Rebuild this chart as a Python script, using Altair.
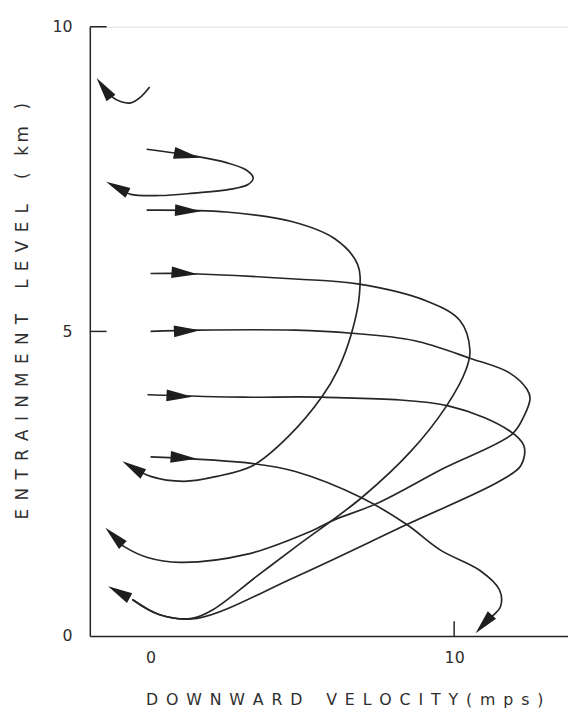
import math
import altair as alt
import pandas as pd

# ---- trajectories: downward velocity (mps) vs entrainment level (km) ----
c9_x = [-0.03, -0.32, -0.65, -0.97, -1.30, -1.50]
c9_y = [9.01, 8.85, 8.75, 8.77, 8.86, 9.00]

c8_x = [-0.13, 1.43, 2.50, 3.15, 3.38, 3.21, 2.60, 1.43, 0.32, -0.65, -1.10]
c8_y = [7.99, 7.88, 7.77, 7.65, 7.52, 7.41, 7.33, 7.27, 7.23, 7.25, 7.36]

c7_x = [-0.13, 2.50, 4.68, 6.07, 6.82, 6.88, 6.62, 6.17, 5.65, 4.55, 3.38, 2.18, 1.10, 0.00, -0.55]
c7_y = [6.99, 6.96, 6.80, 6.52, 6.10, 5.61, 4.97, 4.37, 3.93, 3.28, 2.80, 2.62, 2.54, 2.62, 2.76]

c6_x = [0.00, 1.10, 4.77, 6.82, 9.09, 10.19, 10.52, 10.39, 9.74, 8.57, 6.95, 4.77, 3.47, 2.08, 1.36, 0.30, -0.60]
c6_y = [5.95, 5.95, 5.86, 5.78, 5.50, 5.18, 4.69, 4.37, 3.77, 3.03, 2.27, 1.46, 0.97, 0.44, 0.29, 0.35, 0.60]

c5_x = [0.00, 1.53, 4.77, 6.62, 8.67, 10.52, 11.82, 12.40, 12.50, 12.30, 11.92, 9.64, 7.47, 5.97, 5.32, 3.15, 0.97, -0.10, -0.84, -1.15]
c5_y = [5.00, 5.02, 5.02, 4.97, 4.85, 4.56, 4.32, 4.05, 3.90, 3.61, 3.32, 2.75, 2.18, 1.89, 1.73, 1.34, 1.21, 1.29, 1.46, 1.58]

c4_x = [-0.10, 3.05, 5.65, 9.87, 11.82, 12.30, 12.20, 11.49, 8.44, 4.77, 1.53, 0.30, -0.60]
c4_y = [3.96, 3.92, 3.92, 3.77, 3.37, 3.12, 2.80, 2.54, 1.83, 0.97, 0.29, 0.35, 0.60]

c3_x = [0.00, 3.38, 4.77, 6.95, 8.44, 9.55, 10.84, 11.49, 11.53, 11.20]
c3_y = [2.94, 2.83, 2.70, 2.27, 1.83, 1.41, 1.08, 0.76, 0.49, 0.30]

# start arrows (pointing along the initial horizontal path): tail -> tip
start_tail_x = [0.78, 0.78, 0.71, 0.71, 0.55, 0.65]
start_tail_y = [7.93, 6.99, 5.97, 5.00, 3.95, 2.94]
start_tip_x = [1.62, 1.69, 1.53, 1.69, 1.36, 1.53]
start_tip_y = [7.85, 6.97, 5.94, 5.02, 3.93, 2.91]

# end arrows: tail -> tip
end_tail_x = [-1.33, -0.65, -0.10, -0.84, -0.60, 11.27]
end_tail_y = [8.85, 7.25, 2.62, 1.46, 0.60, 0.36]
end_tip_x = [-1.75, -1.56, -1.07, -1.56, -1.49, 10.68]
end_tip_y = [9.14, 7.48, 2.91, 1.81, 0.84, 0.03]

x_ticks = [0, 10]
y_ticks = [0, 5, 10]
x_inner_ticks = [10]
y_inner_ticks = [5, 10]

X_TITLE = "D\u2002O\u2002W\u2002N\u2002W\u2002A\u2002R\u2002D\u2002\u2002\u2002V\u2002E\u2002L\u2002O\u2002C\u2002I\u2002T\u2002Y\u2002(\u2002m\u2002p\u2002s\u2002)"
Y_TITLE = "E\u2002N\u2002T\u2002R\u2002A\u2002I\u2002N\u2002M\u2002E\u2002N\u2002T\u2002\u2002\u2002L\u2002E\u2002V\u2002E\u2002L\u2002\u2002\u2002(\u2002\u2002k\u2009m\u2002\u2002)"

X_DOMAIN = [-2, 13.75]
Y_DOMAIN = [0, 10]
W, H = 485, 618

curves = {
    "9 km": (c9_x, c9_y), "8 km": (c8_x, c8_y), "7 km": (c7_x, c7_y),
    "6 km": (c6_x, c6_y), "5 km": (c5_x, c5_y), "4 km": (c4_x, c4_y),
    "3 km": (c3_x, c3_y),
}
rows = []
for name, (xs, ys) in curves.items():
    for i, (xv, yv) in enumerate(zip(xs, ys)):
        rows.append({"curve": name, "i": i, "x": xv, "y": yv})
lines_df = pd.DataFrame(rows)

sx = W / (X_DOMAIN[1] - X_DOMAIN[0])
sy = H / (Y_DOMAIN[1] - Y_DOMAIN[0])


def arrow_df(tx, ty, px, py):
    out = []
    for a, b, c, d in zip(tx, ty, px, py):
        ang = math.degrees(math.atan2(-(d - b) * sy, (c - a) * sx)) % 360
        out.append({"x": (a + c) / 2, "y": (b + d) / 2, "angle": ang})
    return pd.DataFrame(out)


start_df = arrow_df(start_tail_x, start_tail_y, start_tip_x, start_tip_y)
end_df = arrow_df(end_tail_x, end_tail_y, end_tip_x, end_tip_y)

FONT = "DejaVu Sans"
INK = "#262626"
TXT = "#2e2e2e"

x_axis = alt.Axis(values=x_ticks, ticks=False, tickSize=0, grid=False, labelFontSize=16,
                  labelFont=FONT, labelColor=TXT, labelPadding=14, domainColor=INK,
                  domainWidth=1.5, title=X_TITLE, titleFont=FONT, titleFontSize=16,
                  titleFontWeight="normal", titleColor=TXT, titleX=258, titleY=64,
                  titleAlign="center", titleBaseline="middle")
y_axis = alt.Axis(values=y_ticks, ticks=False, tickSize=0, grid=False, labelFontSize=16,
                  labelFont=FONT, labelColor=TXT, labelPadding=18, domainColor=INK,
                  domainWidth=1.5, title=Y_TITLE, titleFont=FONT, titleFontSize=17,
                  titleFontWeight="normal", titleColor=TXT, titleX=-68, titleY=288,
                  titleAngle=270, titleAlign="center", titleBaseline="middle")

xs_scale = alt.Scale(domain=X_DOMAIN, nice=False, zero=False)
ys_scale = alt.Scale(domain=Y_DOMAIN, nice=False, zero=False)


def X():
    return alt.X("x:Q", scale=xs_scale, axis=x_axis)


def Y():
    return alt.Y("y:Q", scale=ys_scale, axis=y_axis)


lines = alt.Chart(lines_df).mark_line(
    interpolate="catmull-rom", color=INK, strokeWidth=1.7
).encode(x=X(), y=Y(), detail="curve:N", order="i:Q")

ARROW = "M1,0L-1,-0.45L-1,0.45Z"
start_arrows = alt.Chart(start_df).mark_point(
    shape=ARROW, filled=True, color="#1e1e1e", opacity=1, size=700
).encode(x=X(), y=Y(), angle=alt.Angle("angle:Q", scale=None))

end_arrows = alt.Chart(end_df).mark_point(
    shape=ARROW, filled=True, color="#1e1e1e", opacity=1, size=620
).encode(x=X(), y=Y(), angle=alt.Angle("angle:Q", scale=None))

ytick_df = pd.DataFrame({"y": y_inner_ticks})
xtick_df = pd.DataFrame({"x": x_inner_ticks})
yticks = alt.Chart(ytick_df).mark_rule(color=INK, strokeWidth=1.5).encode(
    x=alt.value(0), x2=alt.value(17), y=Y())
xticks = alt.Chart(xtick_df).mark_rule(color=INK, strokeWidth=1.5).encode(
    x=X(), y=alt.value(H), y2=alt.value(H - 15))

chart = alt.layer(lines, start_arrows, end_arrows, yticks, xticks).properties(
    width=W, height=H,
    autosize=alt.AutoSizeParams(type="none"),
    padding={"left": 83, "top": 14, "right": 0, "bottom": 72},
).configure_view(stroke=None).configure(background="white")

chart.save("out.html", embed_options={"renderer": "svg", "actions": False})
